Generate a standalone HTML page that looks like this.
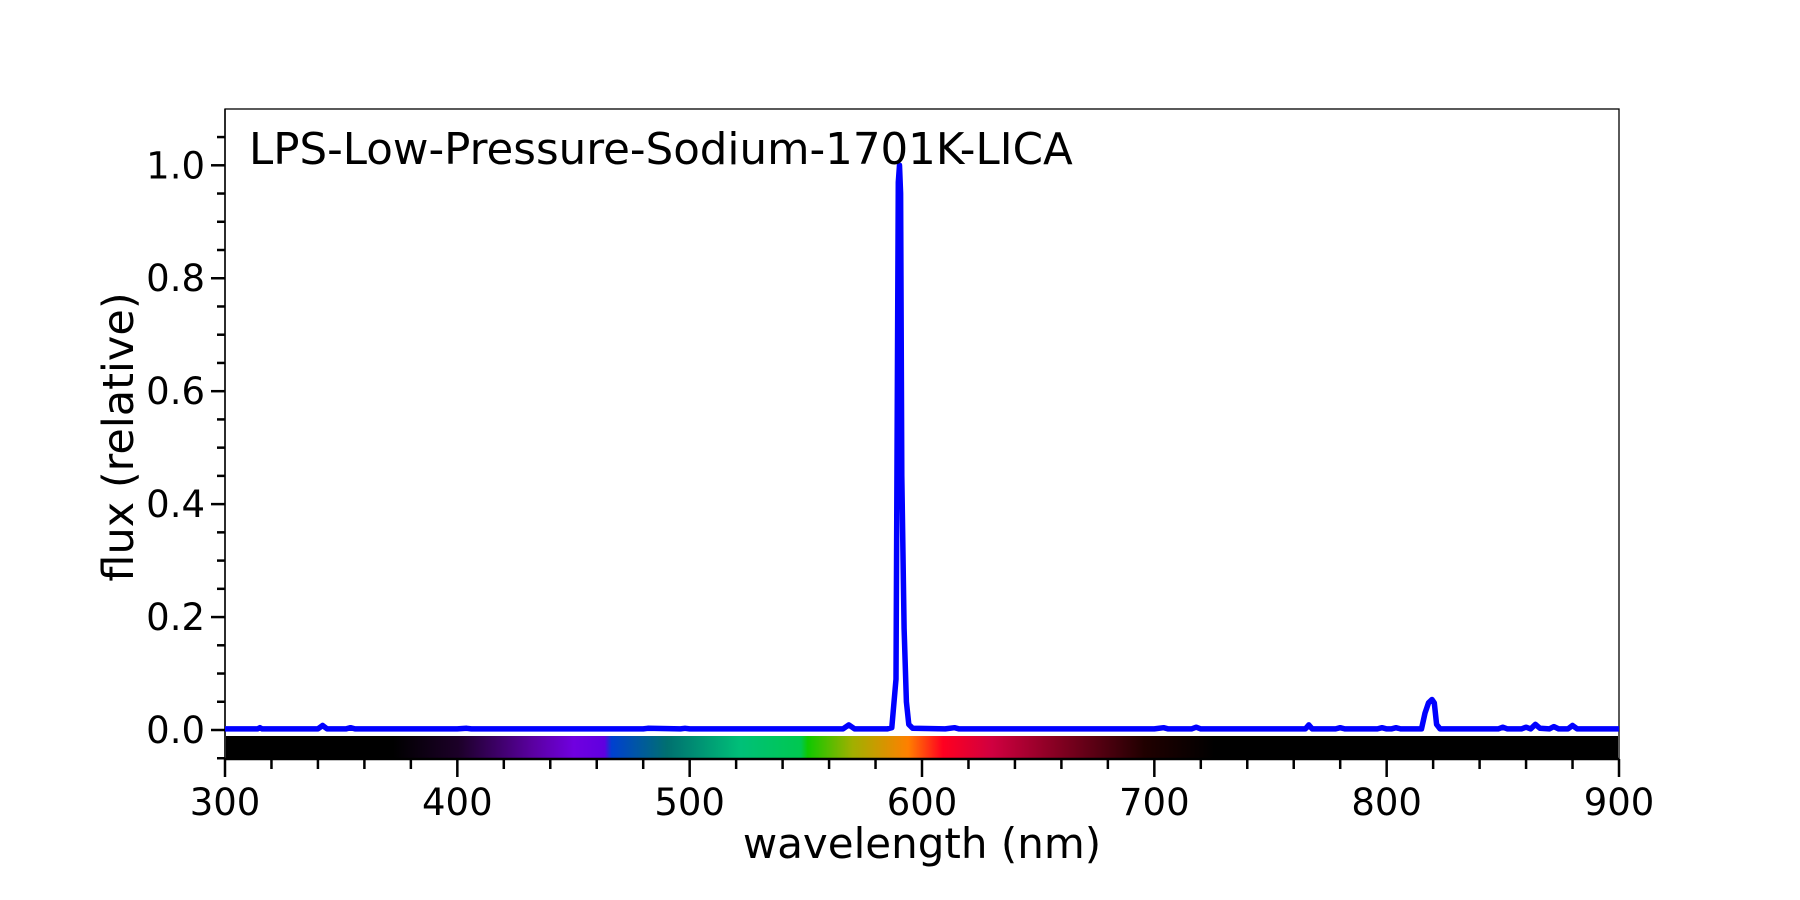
<!DOCTYPE html>
<html><head><meta charset="utf-8">
<style>
html,body{margin:0;padding:0;background:#fff;}
svg{display:block;font-family:"DejaVu Sans","Liberation Sans",sans-serif;}
</style></head>
<body>
<svg id="chart" width="1800" height="900" viewBox="0 0 1800 900">
<defs>
<linearGradient id="spec" x1="0" x2="1" y1="0" y2="0" gradientUnits="objectBoundingBox">
<stop offset="0" stop-color="#000"/>
<stop offset="0.12" stop-color="#000"/>
<stop offset="0.167" stop-color="#1c0028"/>
<stop offset="0.22" stop-color="#5a00a0"/>
<stop offset="0.25" stop-color="#7000e0"/>
<stop offset="0.272" stop-color="#6000e0"/>
<stop offset="0.277" stop-color="#0040d0"/>
<stop offset="0.317" stop-color="#007070"/>
<stop offset="0.37" stop-color="#00c078"/>
<stop offset="0.413" stop-color="#00c850"/>
<stop offset="0.418" stop-color="#10c800"/>
<stop offset="0.45" stop-color="#a0b000"/>
<stop offset="0.49" stop-color="#ff8000"/>
<stop offset="0.515" stop-color="#ff0020"/>
<stop offset="0.55" stop-color="#d00040"/>
<stop offset="0.6" stop-color="#800020"/>
<stop offset="0.66" stop-color="#200000"/>
<stop offset="0.71" stop-color="#000"/>
<stop offset="1" stop-color="#000"/>
</linearGradient>
</defs>
<g id="plot"></g>
</svg>
<script>
const wavelengths=[300,314,315,316,336,340,342,344,352,354,356,400,404,406,470,480,482,496,498,500,540,566,568.5,571,585,587,588.8,589.8,590.3,590.8,591.3,592.3,593.3,594.3,596,610,614,616,620,700,704,706,716,718,720,750,765,766.5,768,778,780,782,796,798,800,802,804,806,815,816.5,818,819.5,820.5,821.5,823,848,850,852,858,860,862,864,866,870,872,874,878,880,882,900];
const flux=[0.002,0.002,0.004,0.002,0.002,0.002,0.008,0.002,0.002,0.004,0.002,0.002,0.003,0.002,0.002,0.002,0.003,0.002,0.003,0.002,0.002,0.002,0.009,0.002,0.002,0.004,0.09,0.97,1.0,0.95,0.45,0.18,0.05,0.01,0.003,0.002,0.004,0.002,0.002,0.002,0.004,0.002,0.002,0.005,0.002,0.002,0.002,0.009,0.002,0.002,0.004,0.002,0.002,0.004,0.002,0.002,0.004,0.002,0.002,0.03,0.048,0.054,0.048,0.01,0.002,0.002,0.005,0.002,0.002,0.005,0.002,0.01,0.003,0.002,0.006,0.002,0.002,0.008,0.002,0.002];
const xTicks=[300,400,500,600,700,800,900];
const yTicks=[0.0,0.2,0.4,0.6,0.8,1.0];

const L=225,R=1619,T=109,B=759;
const xMin=300,xMax=900,y0px=730,y1px=165.3;
const sx=v=>L+(v-xMin)/(xMax-xMin)*(R-L);
const sy=v=>y0px+(y1px-y0px)*v;
const NS="http://www.w3.org/2000/svg";
const g=document.getElementById('plot');
function mk(tag,attrs,parent){const e=document.createElementNS(NS,tag);for(const k in attrs)e.setAttribute(k,attrs[k]);(parent||g).appendChild(e);return e;}

const frame=mk('rect',{x:L,y:T,width:R-L,height:B-T,fill:'#fff',stroke:'#000','stroke-width':1.3});



const bar=mk('rect',{x:L+1,y:736,width:R-L-2,height:22,fill:'url(#spec)'});



mk('line',{x1:L,x2:R,y1:B,y2:B,stroke:'#000','stroke-width':2.5});
mk('line',{x1:L,x2:L,y1:T,y2:B,stroke:'#000','stroke-width':1.5});

for(let v=300;v<=900;v+=20){
  const major=v%100===0;
  const t=mk('line',{x1:sx(v),x2:sx(v),y1:B,y2:B+(major?18:10),stroke:'#000','stroke-width':2.5});
  
  
}
xTicks.forEach(v=>{
  const t=mk('text',{x:sx(v),y:815,'font-size':37,'text-anchor':'middle',fill:'#000'});
  t.textContent=String(v);
  
  
});
for(let i=-1;i<=21;i++){
  const v=i*0.05;const y=sy(v);
  if(y<T||y>B)continue;
  const major=i%4===0;
  const t=mk('line',{x1:L-(major?14:8),x2:L,y1:y,y2:y,stroke:'#000','stroke-width':2.5});
  
  
}
yTicks.forEach(v=>{
  const t=mk('text',{x:L-20,y:sy(v)+13,'font-size':37,'text-anchor':'end',fill:'#000'});
  t.textContent=v.toFixed(1);
  
  
});

let d='';
wavelengths.forEach((w,i)=>{d+=(i?'L':'M')+sx(w).toFixed(1)+','+sy(flux[i]).toFixed(1);});
const line=mk('path',{d:d,fill:'none',stroke:'#0000ff','stroke-width':5.5,'stroke-linejoin':'round'});



const title=mk('text',{x:249,y:164,'font-size':43.5,fill:'#000'});
title.textContent='LPS-Low-Pressure-Sodium-1701K-LICA';


const xl=mk('text',{x:(L+R)/2,y:858,'font-size':42,'text-anchor':'middle',fill:'#000'});
xl.textContent='wavelength (nm)';


const yl=mk('text',{x:0,y:0,'font-size':43,'text-anchor':'middle',fill:'#000',transform:'translate(133,437) rotate(-90)'});
yl.textContent='flux (relative)';


</script>
</body></html>
